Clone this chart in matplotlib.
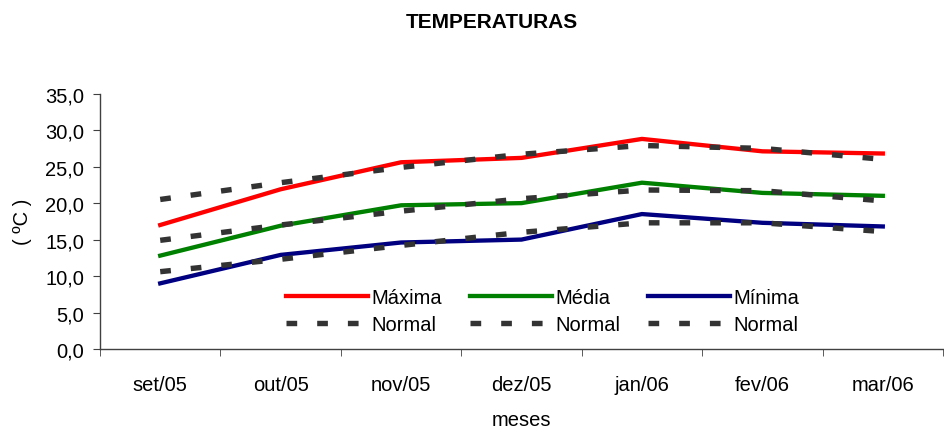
import matplotlib
matplotlib.use("Agg")
import matplotlib.pyplot as plt

plt.rcParams['font.family'] = ['Liberation Sans', 'DejaVu Sans']
plt.rcParams['lines.scale_dashes'] = False

meses = ["set/05", "out/05", "nov/05", "dez/05", "jan/06", "fev/06", "mar/06"]
maxima = [17.0, 21.9, 25.6, 26.2, 28.8, 27.1, 26.8]
maxima_normal = [20.5, 22.8, 24.9, 26.7, 27.9, 27.5, 26.0]
media = [12.8, 16.9, 19.7, 20.0, 22.8, 21.4, 21.0]
media_normal = [14.9, 17.0, 18.9, 20.6, 21.8, 21.7, 20.3]
minima = [9.0, 12.9, 14.6, 15.0, 18.5, 17.3, 16.8]
minima_normal = [10.6, 12.3, 14.2, 16.0, 17.3, 17.3, 16.1]

FS = 14.5

fig = plt.figure(figsize=(9.44, 4.39), dpi=100)
ax = fig.add_axes([100/944, 89/439, 843/944, 255.3/439])

x = list(range(len(meses)))
dash = dict(color='#333333', lw=3.9, dashes=(7.7, 14.4), dash_capstyle='butt')

l1, = ax.plot(x, maxima, color='#ff0000', lw=3.1, label='Máxima')
l3, = ax.plot(x, media, color='#008000', lw=3.1, label='Média')
l5, = ax.plot(x, minima, color='#000080', lw=3.1, label='Mínima')
l2, = ax.plot(x, maxima_normal, label='Normal', **dash)
l4, = ax.plot(x, media_normal, label='Normal', **dash)
l6, = ax.plot(x, minima_normal, label='Normal', **dash)

ax.set_xlim(-0.5, len(meses) - 0.5)
ax.set_ylim(0, 35)
yt = [0, 5, 10, 15, 20, 25, 30, 35]
ax.set_yticks(yt)
ax.set_yticklabels([f"{v:.1f}".replace('.', ',') for v in yt])
ax.set_xticks(x)
ax.set_xticklabels(meses)
ax.set_xticks([i - 0.5 for i in range(len(meses) + 1)], minor=True)
ax.tick_params(axis='x', which='major', length=0, pad=19, labelsize=FS)
ax.tick_params(axis='x', which='minor', length=5, direction='out', color='#404040')
ax.tick_params(axis='y', length=5, direction='out', labelsize=FS, pad=6.5, color='#404040')

for s in ['top', 'right']:
    ax.spines[s].set_visible(False)
for s in ['left', 'bottom']:
    ax.spines[s].set_color('#404040')
    ax.spines[s].set_linewidth(1)

leg = ax.legend(handles=[l1, l2, l3, l4, l5, l6], ncol=3, frameon=False,
                loc='center left', bbox_to_anchor=((286 - 100) / 843, (350 - 312) / 255.3),
                fontsize=FS, handlelength=4.08, handletextpad=0.18,
                columnspacing=1.35, labelspacing=0.38, borderaxespad=0, borderpad=0)

fig.text(491.5/944, 1 - 23/439, 'TEMPERATURAS', ha='center', va='center',
         fontsize=15, fontweight='bold')
fig.text(521/944, 1 - 421/439, 'meses', ha='center', va='center', fontsize=FS)
fig.text(22.5/944, 1 - 222/439, '( ºC )', ha='center', va='center', rotation=90, fontsize=FS)

fig.savefig('out.png', dpi=100)
